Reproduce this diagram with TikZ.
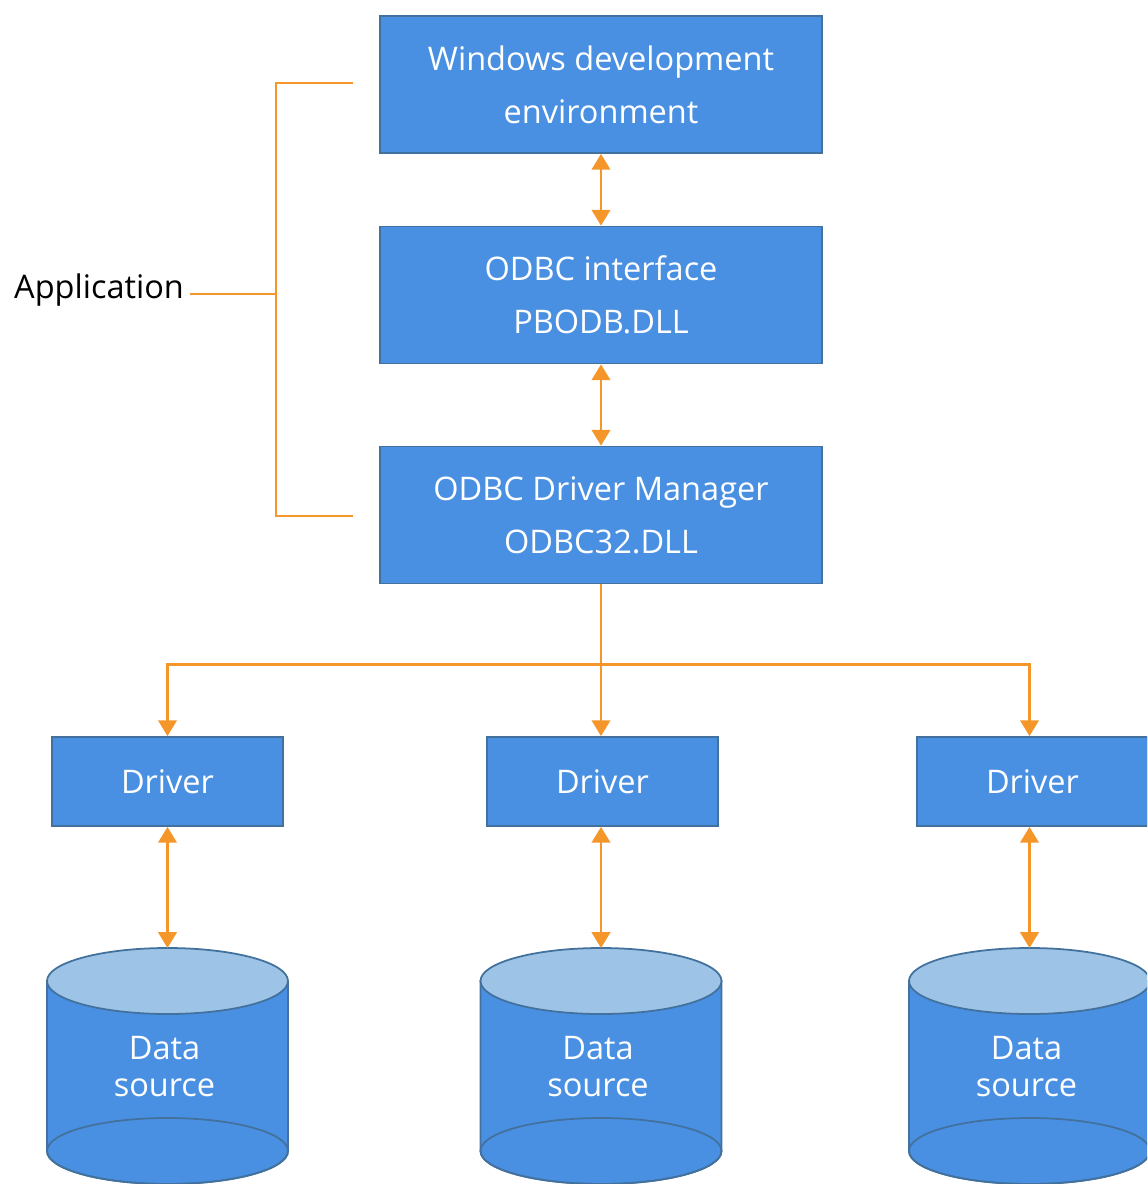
\documentclass[tikz,border=0pt]{standalone}
\usepackage{fontspec}
\setmainfont{Open Sans}
\usetikzlibrary{arrows.meta}
\definecolor{boxblue}{HTML}{4A90E2}
\definecolor{boxedge}{HTML}{41719C}
\definecolor{toplight}{HTML}{9DC3E6}
\definecolor{linkorange}{HTML}{F5962A}
\tikzset{
  box/.style={draw=boxedge, line width=1pt, fill=boxblue, text=white, align=center,
    minimum width=8.84cm, minimum height=2.74cm, inner sep=0pt,
    font=\fontsize{18.5}{30}\selectfont},
  drvbox/.style={draw=boxedge, line width=1pt, fill=boxblue, text=white,
    minimum width=4.62cm, minimum height=1.78cm, inner sep=0pt,
    font=\fontsize{18.5}{20}\selectfont},
  link/.style={draw=linkorange, line width=1.4pt},
  tip/.style={-{Triangle[width=10.5pt,length=9pt]}},
  dtip/.style={{Triangle[width=10.5pt,length=9pt]}-{Triangle[width=10.5pt,length=9pt]}},
  cylbody/.style={fill=boxblue, draw=boxedge, line width=1pt},
  cyltop/.style={fill=toplight, draw=boxedge, line width=1pt},
  cyltext/.style={text=white, align=center, font=\fontsize{18.5}{21}\selectfont},
}
\begin{document}
\begin{tikzpicture}[x=0.02cm, y=-0.02cm]
\path[use as bounding box] (0,0) rectangle (1147,1184);
\clip (0,0) rectangle (1147,1184);

% application stack
\node[box] (wde) at (601,84.5) {Windows development\\environment};
\node[box] (odbc) at (601,295) {ODBC interface\\PBODB.DLL};
\node[box] (dm) at (601,515) {ODBC Driver Manager\\ODBC32.DLL};

% drivers
\node[drvbox] (d1) at (167.5,781.5) {Driver};
\node[drvbox] (d2) at (602.5,781.5) {Driver};
\node[drvbox] (d3) at (1032.5,781.5) {Driver};

% data sources drawn as cylinders
\foreach \cx/\nm in {167.5/ds1, 601/ds2, 1029.5/ds3}{
  \path[cylbody] (\cx-120.5,981) -- (\cx-120.5,1151)
     arc[start angle=180, end angle=0, x radius=120.5, y radius=33]
     -- (\cx+120.5,981) -- cycle;
  \draw[boxedge, line width=1pt] (\cx,1151) ellipse[x radius=120.5, y radius=33];
  \path[cyltop] (\cx,981) ellipse[x radius=120.5, y radius=33];
  \coordinate (\nm) at (\cx,948);
  \node[cyltext] (\nm text) at (\cx-3,1066.5) {Data\\source};
}

% connectors
\draw[link, dtip] (wde.south) -- (odbc.north);
\draw[link, dtip] (odbc.south) -- (dm.north);
\draw[link] (dm.south) -- ++(0,80) coordinate (split);
\draw[link, tip] (split) -| (d1.north);
\draw[link, tip] (split) -- (split |- d2.north);
\draw[link, tip] (split) -| (ds3 |- d3.north);
\draw[link, dtip] (d1.south) -- (ds1);
\draw[link, dtip] (d2.south -| ds2) -- (ds2);
\draw[link, dtip] (d3.south -| ds3) -- (ds3);

% application bracket
\node[anchor=west, font=\fontsize{18.5}{20}\selectfont] (app) at (8,290) {Application};
\coordinate (brtop) at (353,83);
\coordinate (brbot) at (353,516);
\coordinate (brmid) at (276,294);
\draw[link, line width=1.1pt] (brtop) -- (276,83) -- (276,516) -- (brbot);
\draw[link, line width=1.1pt] (app.east |- brmid) -- (brmid);
\end{tikzpicture}
\end{document}
